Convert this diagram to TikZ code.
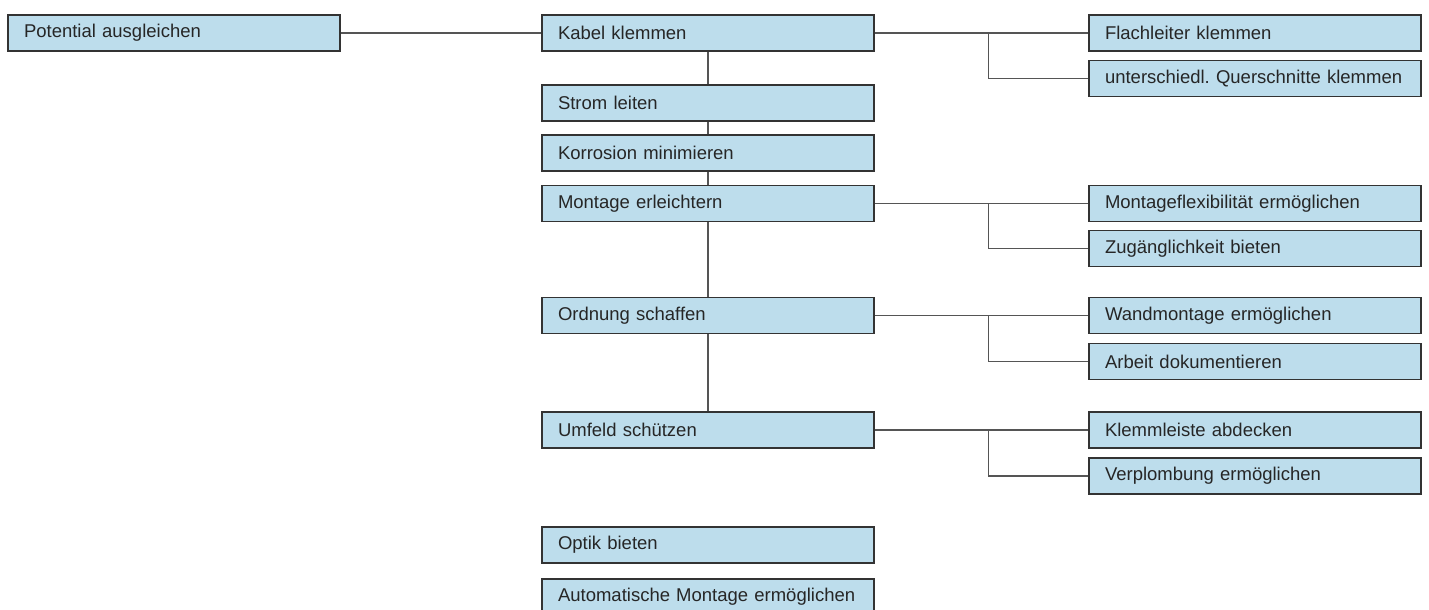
\documentclass[tikz,border=0pt]{standalone}
\usepackage{fontspec}
\setmainfont{Liberation Sans}
\frenchspacing
\definecolor{boxblue}{RGB}{189,221,236}
\definecolor{boxline}{RGB}{51,51,51}
\definecolor{conline}{RGB}{85,85,85}
\tikzset{
  func/.style={draw=boxline, fill=boxblue, line width=1.3pt, minimum width=332pt,
    minimum height=36pt, text width=300pt, inner xsep=16pt, align=left,
    font=\fontsize{18.5}{20}\selectfont, text=black!85},
  con/.style={draw=conline, line width=1.4pt}
}
\begin{document}
\begin{tikzpicture}[x=1pt,y=-1pt]
\useasboundingbox (0,0) rectangle (1429,610);
% linke und mittlere Spalte
\node[func] (pot) at (174,33) {Potential ausgleichen};
\node[func] (kabel) at (708,33) {Kabel klemmen};
\node[func] (strom) at (708,103) {Strom leiten};
\node[func] (korr) at (708,153) {Korrosion minimieren};
\node[func] (mont) at (708,203.5) {Montage erleichtern};
\node[func] (ord) at (708,315.5) {Ordnung schaffen};
\node[func] (umf) at (708,430) {Umfeld sch\"utzen};
\node[func] (optik) at (708,545) {Optik bieten};
\node[func] (auto) at (708,597) {Automatische Montage erm\"oglichen};
% rechte Spalte
\node[func] (flach) at (1255,33) {Flachleiter klemmen};
\node[func] (quer) at (1255,78.5) {unterschiedl. Querschnitte klemmen};
\node[func] (flex) at (1255,203.5) {Montageflexibilit\"at erm\"oglichen};
\node[func] (zug) at (1255,248.5) {Zug\"anglichkeit bieten};
\node[func] (wand) at (1255,315.5) {Wandmontage erm\"oglichen};
\node[func] (doku) at (1255,361.5) {Arbeit dokumentieren};
\node[func] (kleist) at (1255,430) {Klemmleiste abdecken};
\node[func] (plomb) at (1255,476) {Verplombung erm\"oglichen};
% Verbindungen
\draw[con] (pot) -- (kabel);
\draw[con] (kabel) -- (strom);
\draw[con] (strom) -- (korr);
\draw[con] (korr) -- (mont);
\draw[con] (mont) -- (ord);
\draw[con] (ord) -- (umf);
\foreach \a/\b/\c in {kabel/flach/quer, mont/flex/zug, ord/wand/doku, umf/kleist/plomb}{
  \draw[con] (\a) -- (\b);
  \coordinate (br\a) at ([xshift=114pt]\a.east);
  \draw[con] (br\a) |- (\c.west);
}
\end{tikzpicture}
\end{document}
